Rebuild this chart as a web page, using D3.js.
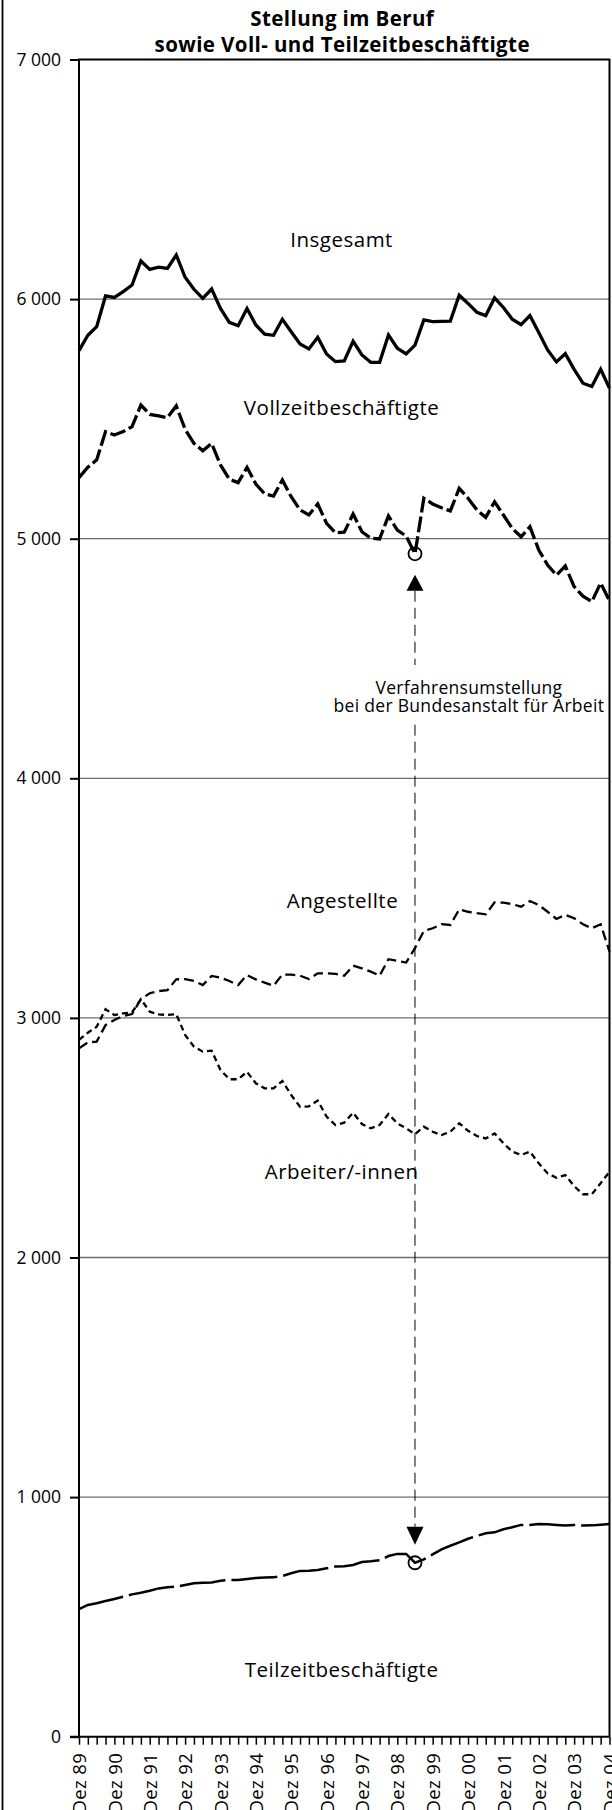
<!DOCTYPE html>
<html lang="de">
<head>
<meta charset="utf-8">
<title>Stellung im Beruf</title>
<script src="https://cdn.jsdelivr.net/npm/d3@7"></script>
<style>
    html, body { margin: 0; padding: 0; background: #fff; }
    svg { display: block; font-family: 'Open Sans', 'Noto Sans', sans-serif; }
</style>
</head>
<body>
<div id="chart"></div>
<script>
// ——— Data (in 1 000, quarterly from Dez 89 to Dez 04) ———
const YEARS = ['Dez 89', 'Dez 90', 'Dez 91', 'Dez 92', 'Dez 93', 'Dez 94', 'Dez 95', 'Dez 96',
    'Dez 97', 'Dez 98', 'Dez 99', 'Dez 00', 'Dez 01', 'Dez 02', 'Dez 03', 'Dez 04'];
const Y_TICKS = [0, 1000, 2000, 3000, 4000, 5000, 6000, 7000];

const INSGESAMT = [5785, 5849, 5885, 6013, 6007, 6031, 6059, 6159, 6124, 6133, 6128, 6184,
    6091, 6041, 6003, 6042, 5961, 5903, 5889, 5961, 5892, 5854, 5849, 5916, 5864, 5813, 5792,
    5841, 5771, 5739, 5742, 5824, 5767, 5736, 5736, 5850, 5795, 5771, 5808, 5913, 5906, 5907,
    5908, 6016, 5982, 5945, 5931, 6005, 5965, 5916, 5893, 5931, 5861, 5788, 5738, 5772, 5707,
    5649, 5635, 5707, 5628];
const VOLLZEIT = [5255, 5298, 5329, 5447, 5433, 5447, 5468, 5558, 5519, 5513, 5505, 5554,
    5457, 5398, 5367, 5398, 5308, 5248, 5234, 5298, 5228, 5187, 5178, 5245, 5175, 5120, 5099,
    5145, 5064, 5025, 5027, 5103, 5029, 5002, 4999, 5095, 5036, 5011, 4937, 5169, 5145, 5129,
    5116, 5210, 5169, 5120, 5089, 5154, 5099, 5043, 5008, 5050, 4953, 4890, 4848, 4886, 4800,
    4760, 4737, 4815, 4740];
const ANGESTELLTE = [2873, 2898, 2901, 2970, 2991, 3008, 3016, 3078, 3103, 3112, 3116, 3161,
    3162, 3154, 3137, 3175, 3168, 3154, 3137, 3179, 3161, 3147, 3134, 3181, 3181, 3176, 3162,
    3186, 3186, 3184, 3176, 3218, 3207, 3193, 3176, 3245, 3238, 3231, 3291, 3363, 3374, 3391,
    3388, 3453, 3443, 3437, 3432, 3482, 3481, 3475, 3464, 3488, 3471, 3443, 3413, 3430, 3416,
    3391, 3374, 3391, 3276];
const ARBEITER = [2908, 2938, 2963, 3036, 3012, 3019, 3023, 3078, 3026, 3015, 3012, 3016,
    2929, 2880, 2859, 2863, 2783, 2744, 2744, 2775, 2727, 2706, 2706, 2737, 2678, 2629, 2631,
    2655, 2588, 2553, 2563, 2604, 2557, 2539, 2553, 2599, 2560, 2539, 2515, 2546, 2525, 2511,
    2525, 2560, 2529, 2507, 2497, 2518, 2477, 2442, 2428, 2442, 2393, 2351, 2333, 2344, 2298,
    2264, 2264, 2310, 2358];
const TEILZEIT = [532, 550, 557, 566, 575, 584, 594, 601, 609, 619, 624, 626, 633, 640, 643,
    644, 651, 654, 654, 658, 662, 664, 665, 671, 682, 692, 693, 696, 703, 710, 711, 717, 729,
    732, 736, 754, 763, 763, 726, 740, 761, 782, 797, 811, 826, 838, 849, 853, 866, 874, 884,
    884, 888, 887, 884, 881, 884, 881, 882, 885, 888];

// quarter of the procedural change (Jun 99)
const BREAK_Q = 38;

const TITLE = ['Stellung im Beruf', 'sowie Voll- und Teilzeitbeschäftigte'];
const NOTE = ['Verfahrensumstellung', 'bei der Bundesanstalt für Arbeit'];

(() => {
    const W = 612, H = 1810;
    const M = { left: 79, right: 609.5, top: 59.5, bottom: 1736.7 };
    const QUARTERS = INSGESAMT.length;

    const svg = d3.select('#chart').append('svg')
        .attr('width', W)
        .attr('height', H)
        .attr('viewBox', `0 0 ${W} ${H}`);

    const x = d3.scaleLinear().domain([0, QUARTERS - 1]).range([M.left, M.right]);
    const y = d3.scaleLinear().domain([0, 7000]).range([M.bottom, M.top]);

    const fmt = d3.formatLocale({ decimal: ',', thousands: '\u00a0', grouping: [3], currency: ['', ''] }).format(',');

    // ——— Outer frame line ———
    svg.append('line')
        .attr('x1', 2.5).attr('x2', 2.5).attr('y1', 0).attr('y2', H)
        .attr('stroke', '#000').attr('stroke-width', 1.8);

    // ——— Title ———
    svg.append('g')
        .selectAll('text')
        .data(TITLE)
        .join('text')
        .attr('x', (M.left + M.right) / 2 - 2)
        .attr('y', (d, i) => 25.5 + i * 26.2)
        .attr('text-anchor', 'middle')
        .attr('font-size', '20.5px')
        .attr('letter-spacing', '0.4px')
        .attr('font-weight', 'bold')
        .text(d => d);

    // ——— Gridlines ———
    svg.append('g')
        .selectAll('line')
        .data(Y_TICKS.filter(v => v > 0 && v < 7000))
        .join('line')
        .attr('x1', M.left).attr('x2', M.right)
        .attr('y1', d => y(d)).attr('y2', d => y(d))
        .attr('stroke', '#6e6e6e')
        .attr('stroke-width', 1.3);

    // ——— Y axis ———
    const yAxis = svg.append('g')
        .attr('transform', `translate(${M.left},0)`)
        .call(d3.axisLeft(y).tickValues(Y_TICKS).tickSize(9).tickPadding(9).tickFormat(fmt));
    yAxis.select('.domain').remove();
    yAxis.selectAll('.tick line').attr('stroke', '#000').attr('stroke-width', 2);
    yAxis.selectAll('.tick text')
        .attr('font-size', '17.5px')
        .attr('font-family', "'Open Sans', sans-serif")
        .attr('fill', '#000');

    // ——— X axis ———
    const xAxis = svg.append('g')
        .attr('transform', `translate(0,${M.bottom})`)
        .call(d3.axisBottom(x)
            .tickValues(d3.range(QUARTERS))
            .tickSize(8)
            .tickFormat(i => i % 4 === 0 ? YEARS[i / 4] : ''));
    xAxis.select('.domain').remove();
    xAxis.selectAll('.tick line').attr('stroke', '#000').attr('stroke-width', 1.5);
    xAxis.selectAll('.tick text')
        .attr('transform', 'rotate(-90)')
        .attr('text-anchor', 'end')
        .attr('x', -16)
        .attr('y', 0)
        .attr('dy', '0.36em')
        .attr('font-size', '18.5px')
        .attr('letter-spacing', '0.4px')
        .attr('font-family', "'Open Sans', sans-serif")
        .attr('fill', '#000');

    // ——— Series ———
    const line = d3.line().x((d, i) => x(i)).y(d => y(d));
    const series = [
        { values: INSGESAMT, width: 3.3, dash: null },
        { values: VOLLZEIT, width: 3.3, dash: '16,4' },
        { values: ANGESTELLTE, width: 2.3, dash: '10,5' },
        { values: ARBEITER, width: 2.3, dash: '6,4' },
        { values: TEILZEIT, width: 2.5, dash: '46,6' }
    ];
    svg.append('g')
        .selectAll('path')
        .data(series)
        .join('path')
        .attr('d', d => line(d.values))
        .attr('fill', 'none')
        .attr('stroke', '#000')
        .attr('stroke-width', d => d.width)
        .attr('stroke-dasharray', d => d.dash)
        .attr('stroke-linejoin', 'miter');

    // ——— Series labels ———
    const labels = [
        { text: 'Insgesamt', q: 29.7, v: 6219 },
        { text: 'Vollzeitbeschäftigte', q: 29.7, v: 5516 },
        { text: 'Angestellte', q: 29.8, v: 3457 },
        { text: 'Arbeiter/-innen', q: 29.7, v: 2328 },
        { text: 'Teilzeitbeschäftigte', q: 29.7, v: 250 }
    ];
    svg.append('g')
        .selectAll('text')
        .data(labels)
        .join('text')
        .attr('x', d => x(d.q))
        .attr('y', d => y(d.v))
        .attr('text-anchor', 'middle')
        .attr('font-size', '20.5px')
        .attr('letter-spacing', '0.5px')
        .text(d => d.text);

    // ——— Procedural change annotation ———
    const bx = x(BREAK_Q);
    const yTop = y(VOLLZEIT[BREAK_Q]);
    const yBot = y(TEILZEIT[BREAK_Q]);
    const note = svg.append('g');

    [yTop, yBot].forEach(cy => {
        note.append('circle')
            .attr('cx', bx).attr('cy', cy).attr('r', 6.5)
            .attr('fill', 'none').attr('stroke', '#000').attr('stroke-width', 1.8);
    });

    const upTip = yTop + 21, upBase = upTip + 16;
    const downTip = yBot - 18, downBase = downTip - 18;
    note.append('path')
        .attr('d', `M${bx},${upTip}L${bx - 8.5},${upBase}L${bx + 8.5},${upBase}Z`)
        .attr('fill', '#000');
    note.append('path')
        .attr('d', `M${bx},${downTip}L${bx - 8.5},${downBase}L${bx + 8.5},${downBase}Z`)
        .attr('fill', '#000');

    const noteY = [y(4352), y(4278)];
    const gapTop = noteY[0] - 29, gapBot = noteY[1] + 13;
    [[upBase, gapTop], [gapBot, downBase]].forEach(([a, b]) => {
        note.append('line')
            .attr('x1', bx).attr('x2', bx).attr('y1', a).attr('y2', b)
            .attr('stroke', '#000').attr('stroke-width', 1)
            .attr('stroke-dasharray', '11,6');
    });

    note.selectAll('text')
        .data(NOTE)
        .join('text')
        .attr('x', x(44.1))
        .attr('y', (d, i) => noteY[i])
        .attr('text-anchor', 'middle')
        .attr('font-size', '17.5px')
        .attr('letter-spacing', '0.3px')
        .text(d => d);

    // ——— Plot frame ———
    svg.append('path')
        .attr('d', `M${M.left},${M.bottom}V${M.top}H${M.right}V${M.bottom}`)
        .attr('fill', 'none')
        .attr('stroke', '#000')
        .attr('stroke-width', 2);
    svg.append('line')
        .attr('x1', M.left - 9).attr('x2', M.right)
        .attr('y1', M.bottom).attr('y2', M.bottom)
        .attr('stroke', '#000').attr('stroke-width', 2);
})();
</script>
</body>
</html>
